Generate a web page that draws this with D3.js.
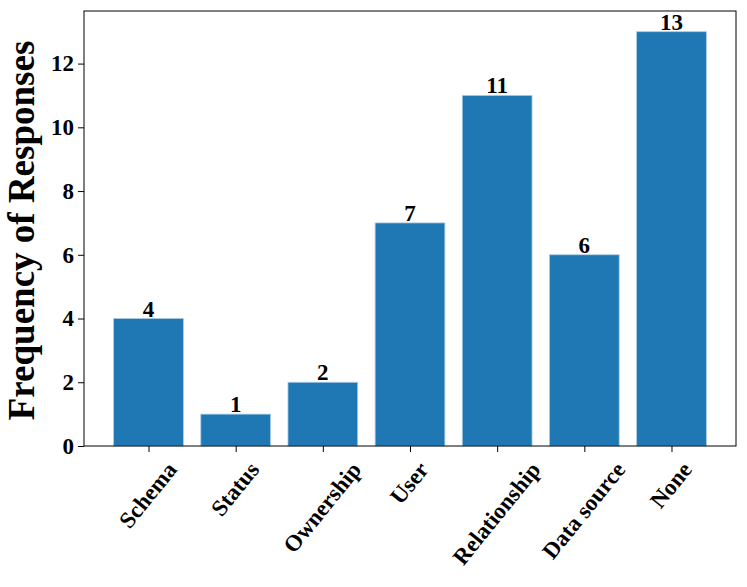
<!DOCTYPE html>
<html>
<head>
<meta charset="utf-8">
<script src="https://cdn.jsdelivr.net/npm/d3@7"></script>
<style>
  body { margin: 0; background: #fff; }
  svg text { font-family: "Liberation Serif", "Times New Roman", serif; font-weight: bold; }
</style>
</head>
<body>
<div id="app"></div>
<script>
// Chart data
const categories = ["Schema", "Status", "Ownership", "User", "Relationship", "Data source", "None"];
const counts = [4, 1, 2, 7, 11, 6, 13];
const yTicks = [0, 2, 4, 6, 8, 10, 12];

const width = 747;
const height = 587;
const margin = { top: 11, right: 11, bottom: 141, left: 84 };

const svg = d3
  .select("#app")
  .append("svg")
  .attr("width", width)
  .attr("height", height);

// x is a linear scale over category index, like matplotlib's bar positions
const xScale = d3
  .scaleLinear()
  .domain([-0.74, categories.length - 1 + 0.74])
  .range([margin.left, width - margin.right]);

const yScale = d3
  .scaleLinear()
  .domain([0, 13 * 1.05])
  .range([height - margin.bottom, margin.top]);

const barWidth = 0.8;

// Bars
svg
  .selectAll("rect.bar")
  .data(counts)
  .enter()
  .append("rect")
  .attr("class", "bar")
  .attr("x", (d, i) => xScale(i - barWidth / 2))
  .attr("y", (d) => yScale(d))
  .attr("width", xScale(barWidth) - xScale(0))
  .attr("height", (d) => yScale(0) - yScale(d))
  .attr("fill", "#1f77b4")
  .attr("stroke", "#a9cbe6")
  .attr("stroke-width", 0.8);

// Value labels
svg
  .selectAll("text.value")
  .data(counts)
  .enter()
  .append("text")
  .attr("class", "value")
  .attr("x", (d, i) => xScale(i))
  .attr("y", (d) => yScale(d) - 2)
  .attr("text-anchor", "middle")
  .style("font-size", "23px")
  .text((d) => d);

// Axes
const xAxis = d3
  .axisBottom(xScale)
  .tickValues(d3.range(categories.length))
  .tickFormat((i) => categories[i])
  .tickSize(6)
  .tickSizeOuter(0);

const yAxis = d3.axisLeft(yScale).tickValues(yTicks).tickSize(6).tickSizeOuter(0);

const gx = svg
  .append("g")
  .attr("transform", `translate(0, ${height - margin.bottom})`)
  .call(xAxis);

// rotated labels, bounding box centred under the tick (matplotlib ha=center)
const angle = 51;
const rad = (angle * Math.PI) / 180;
gx.selectAll("text")
  .style("font-size", "23px")
  .attr("fill", "#000")
  .attr("text-anchor", "middle")
  .attr("dominant-baseline", "central")
  .attr("x", 0)
  .attr("y", 0)
  .attr("dy", null)
  .attr("transform", function () {
    const len = this.getComputedTextLength();
    const h = 17;
    const boxH = len * Math.sin(rad) + h * Math.cos(rad);
    return `translate(-1, ${14 + boxH / 2}) rotate(${-angle})`;
  });

const gy = svg
  .append("g")
  .attr("transform", `translate(${margin.left}, 0)`)
  .call(yAxis);

gy.selectAll("text").style("font-size", "23px").attr("fill", "#000").attr("x", -10);

svg.selectAll(".domain").remove();
svg.selectAll(".tick line").attr("stroke", "#000").attr("stroke-width", 1);

// Frame
svg
  .append("rect")
  .attr("x", margin.left)
  .attr("y", margin.top)
  .attr("width", width - margin.left - margin.right)
  .attr("height", height - margin.top - margin.bottom)
  .attr("fill", "none")
  .attr("stroke", "#000")
  .attr("stroke-width", 1);

// Y label
svg
  .append("text")
  .attr("transform", `translate(34, ${(margin.top + height - margin.bottom) / 2 + 2}) rotate(-90)`)
  .attr("text-anchor", "middle")
  .style("font-size", "37px")
  .text("Frequency of Responses");
</script>
</body>
</html>
